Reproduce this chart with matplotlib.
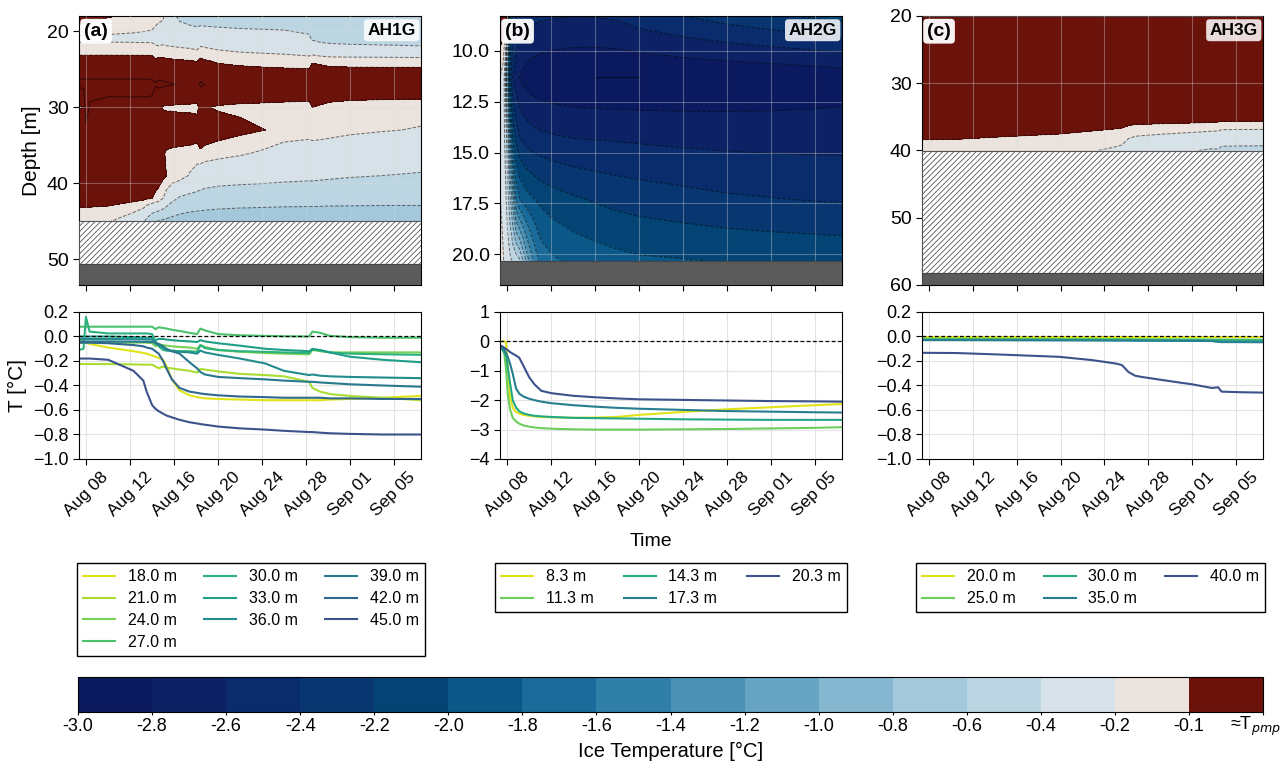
import numpy as np
import matplotlib
matplotlib.use('Agg')
import matplotlib.pyplot as plt
import matplotlib.dates as mdates
from matplotlib.colors import ListedColormap, BoundaryNorm
from matplotlib.cm import ScalarMappable

plt.rcParams['font.family'] = ['Liberation Sans', 'DejaVu Sans']
plt.rcParams['hatch.linewidth'] = 0.6

# time given as day of August (32 = Sep 01)
a_days = [7.34, 7.75, 7.97, 8.3, 10.0, 12.3, 13.2, 13.5, 14.0, 14.3, 14.6, 15.0, 15.3, 15.8, 16.5,
          17.4, 18.1, 18.4, 18.8, 20.0, 22.0, 24.3, 26.0, 28.3, 28.6, 29.3, 30.2, 32.0, 35.0, 38.49]
a_depths = [18.0, 21.0, 24.0, 27.0, 30.0, 33.0, 36.0, 39.0, 42.0, 45.0]
a_T18 = [-0.03, -0.04, -0.05, -0.06, -0.09, -0.12, -0.135, -0.14, -0.155, -0.165, -0.175, -0.19, -0.24, -0.35, -0.44,
         -0.48, -0.495, -0.50, -0.505, -0.51, -0.515, -0.52, -0.52, -0.52, -0.52, -0.52, -0.515, -0.51, -0.50, -0.485]
a_T21 = [-0.225, -0.225, -0.225, -0.225, -0.225, -0.228, -0.23, -0.23, -0.23, -0.245, -0.26, -0.245, -0.255, -0.26, -0.27,
         -0.28, -0.295, -0.265, -0.27, -0.285, -0.305, -0.315, -0.325, -0.37, -0.42, -0.45, -0.47, -0.485, -0.50, -0.52]
a_T24 = [-0.05, -0.05, -0.05, -0.05, -0.05, -0.05, -0.05, -0.05, -0.055, -0.08, -0.065, -0.07, -0.075, -0.08, -0.085,
         -0.09, -0.10, -0.07, -0.085, -0.11, -0.125, -0.135, -0.14, -0.145, -0.11, -0.12, -0.13, -0.13, -0.13, -0.13]
a_T27 = [0.08, 0.08, 0.08, 0.08, 0.08, 0.08, 0.08, 0.08, 0.08, 0.06, 0.075, 0.07, 0.065, 0.055, 0.045,
         0.03, 0.02, 0.065, 0.05, 0.02, 0.01, 0.005, 0.002, 0.0, 0.04, 0.03, 0.005, -0.005, -0.01, -0.01]
a_T30 = [-0.11, -0.10, 0.16, 0.04, 0.025, 0.025, 0.025, 0.025, 0.02, -0.04, -0.08, -0.11, -0.115, -0.115, -0.12,
         -0.12, -0.125, -0.07, -0.095, -0.11, -0.12, -0.125, -0.13, -0.135, -0.10, -0.115, -0.13, -0.14, -0.145, -0.15]
a_T33 = [0.0, 0.0, 0.0, 0.0, 0.0, -0.005, -0.01, -0.01, -0.01, -0.03, -0.02, -0.02, -0.025, -0.03, -0.035,
         -0.04, -0.045, -0.03, -0.04, -0.055, -0.075, -0.10, -0.11, -0.12, -0.105, -0.11, -0.13, -0.165, -0.19, -0.21]
a_T36 = [-0.02, -0.02, -0.02, -0.02, -0.02, -0.022, -0.024, -0.025, -0.025, -0.06, -0.07, -0.09, -0.11, -0.12, -0.125,
         -0.13, -0.14, -0.115, -0.13, -0.15, -0.18, -0.22, -0.28, -0.315, -0.31, -0.32, -0.325, -0.33, -0.335, -0.34]
a_T39 = [-0.04, -0.04, -0.04, -0.04, -0.04, -0.042, -0.044, -0.045, -0.045, -0.05, -0.06, -0.08, -0.10, -0.12, -0.14,
         -0.21, -0.26, -0.29, -0.31, -0.33, -0.34, -0.35, -0.36, -0.37, -0.37, -0.375, -0.38, -0.39, -0.40, -0.41]
a_T42 = [-0.05, -0.05, -0.05, -0.05, -0.055, -0.07, -0.08, -0.09, -0.10, -0.12, -0.14, -0.20, -0.26, -0.35, -0.42,
         -0.45, -0.46, -0.465, -0.47, -0.48, -0.49, -0.495, -0.50, -0.50, -0.50, -0.50, -0.505, -0.505, -0.51, -0.51]
a_T45 = [-0.18, -0.18, -0.18, -0.18, -0.19, -0.28, -0.36, -0.45, -0.56, -0.59, -0.61, -0.63, -0.645, -0.66, -0.68,
         -0.70, -0.71, -0.715, -0.72, -0.735, -0.75, -0.76, -0.77, -0.78, -0.78, -0.785, -0.79, -0.795, -0.80, -0.80]
a_temps = [a_T18, a_T21, a_T24, a_T27, a_T30, a_T33, a_T36, a_T39, a_T42, a_T45]

b_days = [7.34, 7.6, 7.75, 7.9, 8.05, 8.25, 8.5, 8.8, 9.1, 9.5, 10.0, 10.5, 11.1, 12.0,
          14.0, 16.0, 18.0, 20.0, 24.0, 28.0, 32.0, 36.0, 38.49]
b_depths = [8.3, 11.3, 14.3, 17.3, 20.3]
b_T8 = [0.0, 0.0, 0.0, -0.05, -0.8, -1.9, -2.25, -2.4, -2.46, -2.5, -2.53, -2.55, -2.57, -2.58,
        -2.6, -2.59, -2.57, -2.5, -2.4, -2.31, -2.24, -2.17, -2.13]
b_T11 = [-0.2, -0.25, -0.45, -1.0, -1.8, -2.3, -2.6, -2.72, -2.8, -2.86, -2.9, -2.93, -2.95, -2.97,
         -2.99, -3.0, -3.0, -3.0, -2.99, -2.98, -2.96, -2.94, -2.92]
b_T14 = [-0.2, -0.3, -0.4, -0.5, -0.9, -1.4, -2.0, -2.25, -2.38, -2.45, -2.5, -2.53, -2.55, -2.57,
         -2.6, -2.61, -2.62, -2.63, -2.65, -2.66, -2.67, -2.67, -2.67]
b_T17 = [-0.19, -0.25, -0.3, -0.4, -0.53, -0.75, -1.1, -1.6, -1.78, -1.88, -1.95, -2.0, -2.05, -2.1,
         -2.17, -2.22, -2.26, -2.29, -2.33, -2.37, -2.39, -2.41, -2.42]
b_T20 = [-0.13, -0.18, -0.22, -0.26, -0.3, -0.36, -0.42, -0.48, -0.56, -0.85, -1.22, -1.47, -1.68, -1.76,
         -1.85, -1.9, -1.94, -1.97, -1.99, -2.01, -2.03, -2.04, -2.05]
b_temps = [b_T8, b_T11, b_T14, b_T17, b_T20]

c_days = [7.34, 10.5, 14.4, 19.9, 22.9, 25.0, 25.6, 26.2, 26.8, 27.4, 28.9, 30.8, 32.0, 33.8, 34.4, 34.7, 36.5, 38.49]
c_depths = [20.0, 25.0, 30.0, 35.0, 40.0]
c_T20 = [-0.004, -0.004, -0.004, -0.004, -0.004, -0.004, -0.004, -0.004, -0.004, -0.004, -0.004, -0.004,
         -0.005, -0.005, -0.005, -0.005, -0.005, -0.005]
c_T25 = [-0.018, -0.018, -0.019, -0.02, -0.02, -0.021, -0.021, -0.021, -0.021, -0.022, -0.022, -0.023,
         -0.023, -0.024, -0.024, -0.025, -0.025, -0.026]
c_T30 = [-0.025, -0.025, -0.026, -0.027, -0.028, -0.028, -0.028, -0.029, -0.029, -0.029, -0.03, -0.03,
         -0.031, -0.031, -0.032, -0.032, -0.033, -0.033]
c_T35 = [-0.03, -0.03, -0.031, -0.032, -0.033, -0.034, -0.034, -0.034, -0.035, -0.035, -0.035, -0.036,
         -0.036, -0.037, -0.044, -0.046, -0.046, -0.047]
c_T40 = [-0.133, -0.135, -0.147, -0.166, -0.193, -0.22, -0.233, -0.29, -0.32, -0.33, -0.35, -0.375,
         -0.39, -0.42, -0.415, -0.45, -0.455, -0.458]
c_temps = [c_T20, c_T25, c_T30, c_T35, c_T40]

# colour classes of the ice temperature
bounds = [-3.0, -2.8, -2.6, -2.4, -2.2, -2.0, -1.8, -1.6, -1.4, -1.2, -1.0, -0.8, -0.6, -0.4, -0.2, -0.1, 0.3]
bound_labels = ['-3.0', '-2.8', '-2.6', '-2.4', '-2.2', '-2.0', '-1.8', '-1.6', '-1.4', '-1.2', '-1.0',
                '-0.8', '-0.6', '-0.4', '-0.2', '-0.1', '']
pmp_label = '≈T$_{pmp}$'
class_colors = ['#0b1a5e', '#0c2265', '#0a2c6c', '#073670', '#044474', '#0a5788', '#1a6b99', '#2f7fa8',
                '#4b91b5', '#67a4c4', '#86b7d1', '#a3c8dc', '#bcd5e2', '#d6e1e8', '#ebe3de', '#6b120b']
line_levels = bounds[:-1] + [0.05]

tick_days = [8, 12, 16, 20, 24, 28, 32, 36]
base = mdates.date2num(np.datetime64('2021-07-31'))

W, H = 1284, 763


def box(x0, y0, x1, y1):
    return [x0 / W, 1 - y1 / H, (x1 - x0) / W, (y1 - y0) / H]


def style_time(ax, labels):
    ax.set_xlim(base + a_days[0], base + a_days[-1])
    ax.set_xticks([base + d for d in tick_days])
    ax.xaxis.set_major_formatter(mdates.DateFormatter('%b %d'))
    ax.tick_params(direction='out', length=4, width=0.8)
    if labels:
        for lab in ax.get_xticklabels():
            lab.set_rotation(45)
            lab.set_ha('center')
            lab.set_fontsize(12.5)
    else:
        ax.tick_params(labelbottom=False)


def draw_site(col, days, depths, temps, ylim, yticks, yfmt, hatch, bed, tag, name,
              tlim, tticks, leg_top):
    x0, x1 = col
    ax = fig.add_axes(box(x0, 16, x1, 285))
    axb = fig.add_axes(box(x0, 312, x1, 459))
    t = base + np.array(days)
    Z = np.array(temps)

    ax.contourf(t, depths, Z, levels=bounds, colors=class_colors, zorder=1)
    ax.contour(t, depths, Z, levels=line_levels, colors='k', linewidths=0.7, alpha=0.55, zorder=2)
    if hatch is not None:
        ax.axhspan(hatch[0], hatch[1], facecolor='white', edgecolor='#555555', hatch='//////',
                   linewidth=0.8, zorder=3)
    ax.axhspan(bed[0], bed[1], facecolor='#5b5b5b', edgecolor='#444444', linewidth=0.8, zorder=3)
    ax.set_ylim(ylim)
    ax.set_yticks(yticks)
    ax.yaxis.set_major_formatter(plt.FormatStrFormatter(yfmt))
    ax.tick_params(axis='y', labelsize=14)
    ax.grid(True, color='#dddddd', alpha=0.35, linewidth=0.8, zorder=4)
    ax.set_axisbelow(False)
    style_time(ax, False)
    ax.text(0.015, 0.975, tag, transform=ax.transAxes, ha='left', va='top', fontsize=14,
            fontweight='bold', zorder=6,
            bbox=dict(boxstyle='round,pad=0.2', facecolor='white', edgecolor='none', alpha=0.95))
    ax.text(0.985, 0.975, name, transform=ax.transAxes, ha='right', va='top', fontsize=12.5,
            fontweight='bold', zorder=6,
            bbox=dict(boxstyle='round,pad=0.2', facecolor='white', edgecolor='none', alpha=0.85))

    cols = plt.cm.viridis(np.linspace(0.95, 0.25, len(depths)))
    handles = []
    for d, vals, c in zip(depths, temps, cols):
        h, = axb.plot(t, vals, color=c, lw=1.5, label=f'{d:.1f} m')
        handles.append(h)
    axb.axhline(0, color='k', lw=0.9, ls=(0, (3, 2)), zorder=3)
    axb.set_ylim(tlim)
    axb.set_yticks(tticks)
    axb.tick_params(axis='y', labelsize=13)
    axb.grid(True, color='#e3e3e3', linewidth=0.8)
    axb.set_axisbelow(True)
    style_time(axb, True)

    lx0, lx1 = leg_top
    axb.legend(handles=handles, loc='upper left', ncol=3, mode='expand',
               bbox_to_anchor=(lx0 / W, 1 - 563 / H, (lx1 - lx0) / W, 0),
               bbox_transform=fig.transFigure, fontsize=11.5, frameon=True, fancybox=False,
               edgecolor='black', framealpha=1, borderaxespad=0, labelspacing=0.42)
    return ax, axb


fig = plt.figure(figsize=(12.84, 7.63), dpi=100)

ax_a, axb_a = draw_site((79, 421), a_days, a_depths, a_temps, (53.4, 18.0), [20, 30, 40, 50], '%d',
                        (45.0, 50.7), (50.7, 53.4), '(a)', 'AH1G',
                        (-1.0, 0.2), [-1.0, -0.8, -0.6, -0.4, -0.2, 0.0, 0.2], (77, 425))
ax_b, axb_b = draw_site((500, 842), b_days, b_depths, b_temps, (21.5, 8.3), [10.0, 12.5, 15.0, 17.5, 20.0], '%.1f',
                        None, (20.3, 21.5), '(b)', 'AH2G',
                        (-4, 1), [-4, -3, -2, -1, 0, 1], (495, 847))
ax_c, axb_c = draw_site((922, 1263), c_days, c_depths, c_temps, (60, 20), [20, 30, 40, 50, 60], '%d',
                        (40.0, 58.2), (58.2, 60.0), '(c)', 'AH3G',
                        (-1.0, 0.2), [-1.0, -0.8, -0.6, -0.4, -0.2, 0.0, 0.2], (916, 1265))

for a in (axb_a, axb_c):
    a.set_yticklabels([f'{v:.1f}'.replace('-', '\u2212') for v in a.get_yticks()])

ax_a.set_ylabel('Depth [m]', fontsize=15)
axb_a.set_ylabel('T [°C]', fontsize=15)
fig.text(651 / W, 1 - 541 / H, 'Time', ha='center', va='center', fontsize=14)

# colour bar
cmap = ListedColormap(class_colors)
norm = BoundaryNorm(bounds, cmap.N)
cax = fig.add_axes(box(78, 677, 1263, 712))
cb = fig.colorbar(ScalarMappable(norm=norm, cmap=cmap), cax=cax, orientation='horizontal',
                  spacing='uniform', ticks=bounds)
cb.set_ticklabels(bound_labels)
cb.ax.tick_params(labelsize=13, length=2, pad=2)
cb.set_label('Ice Temperature [°C]', fontsize=14.5, labelpad=5)
cb.outline.set_linewidth(0.8)
fig.text(1255 / W, 1 - 715 / H, pmp_label, ha='center', va='top', fontsize=13)

fig.savefig('out.png', dpi=100)
